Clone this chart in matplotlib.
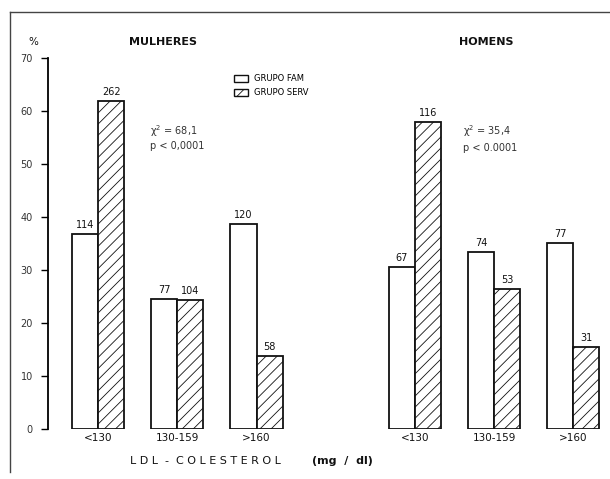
import matplotlib
matplotlib.use("Agg")
import matplotlib.pyplot as plt
from matplotlib.patches import Patch
from matplotlib.lines import Line2D
import numpy as np

categories = ["<130", "130-159", ">160"]
groups = ["MULHERES", "HOMENS"]
fam_women = [36.8, 24.5, 38.7]
serv_women = [61.9, 24.3, 13.8]
fam_men = [30.6, 33.4, 35.1]
serv_men = [57.9, 26.4, 15.5]
n_fam_women = ["114", "77", "120"]
n_serv_women = ["262", "104", "58"]
n_fam_men = ["67", "74", "77"]
n_serv_men = ["116", "53", "31"]
yticks = [0, 10, 20, 30, 40, 50, 60, 70]

plt.rcParams["hatch.linewidth"] = 0.6
W, H = 610, 479
fig = plt.figure(figsize=(W / 100, H / 100), dpi=100)
ax = fig.add_axes([48 / W, (H - 429) / H, (605 - 48) / W, (429 - 58) / H])

pos_w = np.array([0, 1, 2])
pos_m = np.array([4, 5, 6])
bw = 0.33
ink = "#111111"

for pos, fam, serv, nf, ns in [(pos_w, fam_women, serv_women, n_fam_women, n_serv_women),
                               (pos_m, fam_men, serv_men, n_fam_men, n_serv_men)]:
    ax.bar(pos - bw / 2, fam, bw, color="white", edgecolor=ink, linewidth=1.3)
    ax.bar(pos + bw / 2, serv, bw, color="white", edgecolor=ink, linewidth=1.3, hatch="///")
    for x, v, t in zip(pos - bw / 2, fam, nf):
        ax.text(x, v + 0.8, t, ha="center", va="bottom", fontsize=7, color=ink)
    for x, v, t in zip(pos + bw / 2, serv, ns):
        ax.text(x, v + 0.8, t, ha="center", va="bottom", fontsize=7, color=ink)

ax.set_xlim(-0.633, 6.4)
ax.set_ylim(0, 70)
ax.set_yticks(yticks)
ax.set_yticklabels([str(t) for t in yticks], fontsize=7, color="#333333")
ax.set_xticks(list(pos_w) + list(pos_m))
ax.set_xticklabels(categories * 2, fontsize=7.5, color=ink)
ax.tick_params(axis="x", length=0, pad=3)
ax.tick_params(axis="y", length=5, width=1.0, direction="out", pad=6)
for s in ["top", "right", "bottom"]:
    ax.spines[s].set_visible(False)
ax.spines["left"].set_linewidth(1.3)

# titles
fig.text(163 / W, 1 - 42 / H, groups[0], ha="center", va="center", fontsize=8, fontweight="bold", color=ink)
fig.text(486 / W, 1 - 42 / H, groups[1], ha="center", va="center", fontsize=8, fontweight="bold", color=ink)
fig.text(28 / W, 1 - 42 / H, "%", ha="left", va="center", fontsize=7.5, color=ink)

# legend
handles = [Patch(facecolor="white", edgecolor=ink, linewidth=1.0),
           Patch(facecolor="white", edgecolor=ink, linewidth=1.0, hatch="///")]
ax.legend(handles, ["GRUPO FAM", "GRUPO SERV"], loc="upper left",
          bbox_to_anchor=((230 - 48) / (605 - 48), (429 - 70) / (429 - 58)),
          frameon=False, fontsize=6, handlelength=1.7, handleheight=0.9,
          labelspacing=0.6, handletextpad=0.7, borderpad=0)

# statistics
fig.text(150 / W, 1 - 131 / H, "χ$^2$ = 68,1", fontsize=7, color="#333333", va="center")
fig.text(150 / W, 1 - 146 / H, "p < 0,0001", fontsize=7, color="#333333", va="center")
fig.text(463 / W, 1 - 131 / H, "χ$^2$ = 35,4", fontsize=7, color="#333333", va="center")
fig.text(463 / W, 1 - 148 / H, "p < 0.0001", fontsize=7, color="#333333", va="center")

# axis labels
fig.text(205 / W, 1 - 461 / H, "L D L  -  C O L E S T E R O L", ha="center", va="center",
         fontsize=8, color=ink)
fig.text(342 / W, 1 - 461 / H, "(mg  /  dl)", ha="center", va="center",
         fontsize=8, fontweight="bold", color=ink)

# frame lines
fig.add_artist(Line2D([10 / W, 1.0], [1 - 12 / H, 1 - 12 / H], color="#444444", lw=1.0))
fig.add_artist(Line2D([10 / W, 10 / W], [1 - 12 / H, 1 - 472 / H], color="#444444", lw=1.0))

fig.savefig("out.png", dpi=100)
